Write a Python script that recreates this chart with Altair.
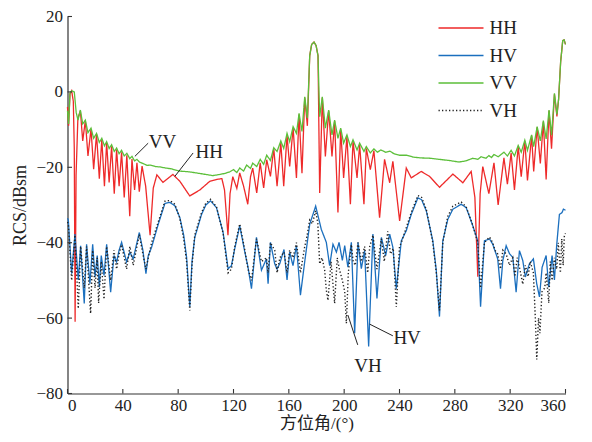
import altair as alt
import pandas as pd

# ---------------- data ----------------
pols = ["HH", "HV", "VV", "VH"]
colors = ["#ee2a2a", "#1b6fbe", "#5cbf3a", "#222222"]

hh_ang = [0.0, 0.8, 1.8, 3.0, 4.2, 4.9, 5.5, 6.2, 7.5, 9.3, 11.0, 12.9, 14.8, 17.0, 18.9, 21.0, 23.0, 24.8,
          26.7, 28.3, 30.1, 31.9, 33.8, 35.5, 37.3, 39.1, 41.0, 42.9, 45.0, 46.6, 48.5, 50.2, 51.9, 53.9,
          56.5, 59.7, 62.0, 64.6, 69.0, 76.2, 81.2, 88.4, 95.7, 102.9, 108.0, 111.6, 113.5, 116.0, 117.5,
          119.5, 122.4, 124.5, 127.3, 130.3, 132.3, 133.9, 136.8, 139.3, 141.8, 144.0, 146.7, 149.1, 151.5,
          154.2, 156.3, 158.7, 160.6, 163.1, 165.5, 167.4, 169.5, 171.5, 173.4, 175.1, 176.5, 178.2, 179.7,
          181.1, 182.3, 184.2, 186.4, 188.8, 191.2, 193.1, 195.5, 197.5, 199.6, 202.0, 204.5, 206.4, 209.3,
          211.2, 214.3, 216.0, 218.9, 221.5, 225.6, 229.2, 232.9, 235.2, 240.1, 244.9, 248.5, 255.7, 261.7,
          268.9, 278.6, 285.8, 291.8, 294.5, 296.6, 298.3, 300.2, 304.6, 308.3, 311.3, 315.5, 318.0, 320.7,
          323.1, 325.8, 328.0, 330.6, 332.5, 335.5, 337.0, 339.5, 341.8, 344.0, 346.0, 348.1, 349.9, 352.0,
          353.8, 355.0, 356.5, 358.0, 359.0, 360.0]
hh_db = [-4.0, -9.0, -0.5, 0.3, -2.5, -15.0, -61.0, -22.0, -7.0, -5.0, -13.0, -7.6, -17.0, -9.8, -20.5, -11.2,
         -23.0, -12.6, -25.0, -13.5, -24.0, -14.4, -27.0, -15.3, -25.0, -16.0, -28.0, -16.8, -33.0, -17.8,
         -26.0, -18.8, -26.5, -19.7, -25.0, -38.0, -25.5, -22.0, -24.0, -21.9, -23.7, -27.6, -26.0, -23.7,
         -23.2, -23.0, -26.0, -38.0, -27.0, -22.5, -25.6, -21.5, -25.0, -29.8, -22.5, -20.2, -26.8, -18.8,
         -25.5, -18.0, -22.4, -15.0, -25.0, -13.5, -25.0, -11.5, -19.8, -9.5, -22.8, -6.0, -21.6, -1.5,
         -9.0, 9.6, 12.6, 13.2, 12.3, 9.6, -26.8, -1.5, -17.1, -5.0, -17.1, -7.7, -32.0, -10.0, -22.8,
         -11.8, -29.8, -13.0, -22.8, -14.0, -29.8, -15.0, -20.6, -15.6, -33.4, -17.9, -24.1, -18.4, -34.2,
         -20.2, -22.8, -21.1, -22.4, -25.3, -21.8, -24.1, -21.1, -28.0, -49.0, -27.0, -19.8, -27.0, -18.8,
         -30.0, -17.5, -24.5, -16.2, -26.0, -14.5, -22.5, -13.0, -23.5, -11.6, -21.1, -9.4, -19.0, -7.9,
         -23.2, -5.0, -15.1, -0.6, -6.5, -2.0, 8.0, 13.6, 13.8, 12.6]

vv_ang = [0.0, 0.8, 1.8, 3.0, 4.9, 6.3, 7.6, 9.3, 11.0, 12.9, 14.8, 17.0, 18.9, 21.0, 23.0, 24.8, 26.7, 28.3,
          30.1, 31.9, 33.8, 35.5, 37.3, 39.1, 41.0, 42.9, 45.0, 46.6, 48.5, 50.2, 52.0, 54.7, 57.5, 60.0,
          63.5, 66.8, 71.0, 75.0, 81.0, 88.0, 95.0, 100.0, 105.0, 110.0, 114.0, 117.3, 120.0, 122.4, 124.5,
          127.3, 129.5, 132.3, 133.9, 136.8, 139.3, 141.8, 144.0, 146.7, 149.1, 151.5, 154.2, 156.3, 158.7,
          160.6, 163.1, 165.5, 167.4, 169.5, 171.5, 173.4, 175.1, 176.5, 178.2, 179.7, 181.1, 182.3, 184.2,
          186.4, 188.8, 191.2, 193.1, 195.5, 197.5, 199.6, 202.0, 204.5, 206.4, 209.3, 211.2, 214.3, 216.0,
          218.9, 221.5, 224.0, 226.5, 230.0, 233.0, 236.0, 240.0, 245.0, 250.0, 255.0, 262.0, 269.0, 276.0,
          283.0, 288.0, 293.0, 296.6, 299.0, 302.5, 304.6, 306.5, 308.3, 311.3, 315.5, 318.0, 320.7, 323.1,
          325.8, 328.0, 330.6, 332.5, 335.5, 337.0, 339.5, 341.8, 344.0, 346.0, 348.1, 349.9, 352.0, 353.8,
          355.0, 356.5, 358.0, 359.0, 360.0]
vv_db = [-5.0, -8.5, -0.3, 0.3, 0.0, -5.5, -7.5, -4.8, -8.5, -7.5, -10.8, -9.6, -12.3, -11.0, -13.4, -12.3,
         -14.3, -13.2, -15.0, -14.0, -15.8, -14.9, -16.4, -15.5, -17.0, -16.3, -17.7, -17.1, -18.3, -17.9,
         -18.6, -19.0, -19.5, -19.4, -19.8, -19.9, -20.2, -20.4, -21.0, -21.2, -21.6, -21.9, -22.2, -21.9,
         -21.6, -21.2, -20.6, -21.4, -20.2, -21.0, -19.4, -20.3, -18.9, -19.8, -17.9, -19.2, -16.8, -18.2,
         -14.8, -15.8, -13.0, -15.0, -11.0, -13.2, -9.2, -11.0, -5.7, -10.5, -1.3, -7.0, 9.6, 12.6, 13.2,
         12.3, 9.6, -6.6, -1.3, -9.6, -4.8, -11.4, -7.5, -12.3, -9.6, -13.6, -11.4, -14.5, -12.7, -15.4,
         -13.6, -15.8, -14.5, -16.2, -15.1, -16.0, -15.4, -16.0, -15.7, -16.4, -16.8, -16.8, -17.3, -17.5,
         -17.6, -17.9, -18.2, -18.6, -18.3, -17.6, -17.9, -17.2, -17.6, -16.9, -17.4, -16.6, -17.2, -16.0,
         -17.0, -15.5, -17.0, -14.2, -16.0, -12.8, -15.5, -11.4, -14.5, -9.2, -13.0, -7.6, -12.5, -4.8,
         -11.5, -0.4, -6.0, -2.0, 8.0, 13.6, 13.8, 12.6]

hv_ang = [0.0, 0.6, 3.0, 5.4, 7.8, 9.5, 12.1, 13.8, 16.2, 18.2, 19.9, 21.5, 23.0, 24.4, 26.4, 28.3, 31.2, 33.6,
          35.5, 37.3, 39.1, 42.7, 45.1, 47.5, 51.9, 54.5, 56.7, 58.4, 60.8, 65.6, 70.4, 74.0, 77.6, 81.2,
          84.0, 86.1, 88.4, 90.0, 92.0, 96.9, 100.0, 103.4, 107.7, 112.5, 116.1, 118.5, 120.9, 124.5, 128.2,
          130.5, 133.0, 136.6, 140.2, 143.8, 145.0, 146.7, 149.8, 151.5, 153.5, 156.5, 158.7, 160.6, 163.0,
          165.5, 168.4, 171.5, 175.1, 179.4, 183.5, 187.1, 189.5, 191.9, 194.4, 196.3, 198.7, 200.4, 202.7,
          205.2, 207.6, 210.0, 212.4, 214.8, 217.7, 220.8, 223.7, 226.9, 230.0, 232.9, 235.2, 237.7, 241.3,
          244.9, 248.5, 253.3, 256.0, 259.4, 264.1, 266.6, 268.9, 271.3, 274.9, 278.6, 284.6, 288.2, 292.6,
          296.6, 298.6, 301.4, 305.1, 307.4, 311.0, 313.0, 314.7, 317.1, 319.5, 321.9, 324.3, 326.7, 329.1,
          331.0, 333.9, 336.8, 339.2, 341.2, 343.1, 346.0, 347.9, 350.3, 352.0, 353.6, 355.6, 357.5, 358.5,
          360.0]
hv_db = [-33.5, -34.0, -48.2, -37.7, -49.9, -40.8, -56.1, -40.4, -50.9, -40.4, -49.1, -43.4, -51.8, -43.4,
         -48.7, -40.4, -53.1, -43.4, -45.1, -42.0, -39.9, -45.1, -42.5, -44.3, -37.3, -42.0, -48.2, -43.4,
         -41.2, -35.1, -29.6, -29.3, -30.2, -33.3, -38.0, -43.9, -57.0, -45.0, -38.6, -32.5, -30.0, -28.9,
         -30.7, -37.3, -46.9, -46.1, -41.6, -35.5, -42.5, -46.5, -52.2, -38.6, -47.3, -44.3, -50.9, -39.9,
         -45.6, -47.0, -45.5, -41.8, -49.9, -42.5, -46.1, -40.8, -53.9, -45.0, -35.1, -30.3, -36.5, -39.9,
         -46.1, -40.4, -42.5, -39.9, -44.7, -40.8, -46.5, -39.9, -64.0, -39.9, -46.9, -42.1, -67.5, -37.7,
         -54.8, -38.6, -43.4, -37.7, -41.2, -52.2, -39.5, -36.8, -32.5, -28.1, -28.6, -31.6, -39.5, -47.4,
         -59.6, -39.5, -33.8, -31.1, -29.8, -30.7, -35.1, -39.5, -57.0, -39.5, -39.0, -40.4, -44.3, -52.2,
         -44.7, -40.8, -42.9, -43.9, -53.1, -42.1, -44.7, -49.1, -45.6, -44.3, -50.9, -54.4, -46.5, -43.4,
         -51.8, -43.4, -49.9, -40.8, -32.5, -32.0, -31.1, -31.4]

vh_ang = [0.0, 0.6, 3.0, 5.4, 7.8, 9.5, 12.1, 13.8, 16.7, 18.2, 19.9, 21.5, 22.5, 24.4, 26.4, 28.3, 31.2, 33.6,
          35.5, 37.3, 39.1, 42.7, 45.1, 47.5, 51.9, 54.5, 56.7, 58.4, 60.8, 65.6, 70.4, 74.0, 77.6, 81.2,
          84.0, 86.1, 88.4, 90.0, 92.0, 96.9, 100.0, 103.4, 107.7, 112.5, 116.1, 118.5, 120.9, 124.5, 128.2,
          130.5, 133.0, 136.6, 140.2, 143.8, 145.0, 146.7, 149.8, 151.5, 153.5, 156.5, 158.7, 160.6, 163.0,
          165.5, 168.4, 171.5, 173.0, 175.1, 177.0, 179.4, 181.0, 182.3, 184.0, 185.9, 187.1, 188.3, 190.5,
          193.1, 195.0, 196.5, 198.7, 200.4, 201.6, 203.0, 205.2, 206.5, 208.0, 210.0, 212.4, 214.8, 217.0,
          218.5, 220.8, 223.7, 226.9, 229.0, 231.5, 233.5, 235.5, 237.7, 240.0, 241.3, 244.9, 248.5, 253.3,
          256.0, 259.4, 264.1, 266.6, 268.9, 271.3, 274.9, 278.6, 284.6, 288.2, 292.6, 296.6, 298.6, 301.4,
          305.1, 307.4, 309.0, 311.0, 313.0, 314.7, 317.1, 319.5, 321.9, 323.5, 325.0, 327.0, 329.1, 331.0,
          333.0, 334.5, 336.8, 338.2, 339.2, 340.5, 341.5, 343.0, 345.0, 346.0, 347.9, 349.0, 350.3, 352.0,
          353.6, 354.8, 356.3, 357.3, 358.3, 359.2, 360.0]
vh_db = [-34.5, -35.0, -50.0, -38.0, -57.5, -41.0, -52.0, -41.0, -58.8, -42.0, -52.0, -44.0, -56.0, -45.0,
         -55.0, -41.0, -50.0, -42.0, -47.0, -43.0, -40.5, -47.0, -41.0, -46.0, -37.8, -43.0, -47.0, -44.0,
         -40.0, -34.5, -29.0, -28.8, -29.8, -33.5, -39.0, -45.0, -58.0, -46.0, -38.0, -32.0, -29.5, -28.5,
         -30.5, -37.5, -48.0, -47.0, -41.0, -35.0, -42.0, -47.0, -50.0, -39.0, -45.0, -44.0, -48.0, -40.0,
         -42.0, -48.0, -44.0, -42.5, -48.0, -42.0, -44.0, -40.0, -48.0, -41.0, -38.5, -34.0, -35.0, -31.5,
         -35.0, -45.6, -44.0, -47.3, -52.6, -55.3, -45.0, -56.1, -44.0, -47.0, -50.0, -53.0, -61.4, -48.0,
         -40.5, -45.0, -46.0, -40.0, -45.0, -41.0, -48.0, -41.0, -38.0, -47.0, -39.0, -45.0, -37.0, -43.0,
         -41.5, -57.0, -41.0, -40.0, -36.0, -32.0, -27.5, -28.0, -31.2, -40.0, -48.0, -58.0, -40.0, -33.0,
         -30.3, -29.2, -30.5, -35.0, -40.0, -52.0, -40.0, -38.5, -40.0, -42.0, -43.0, -47.0, -42.0, -43.0,
         -46.0, -44.0, -49.0, -44.0, -47.0, -51.0, -46.0, -49.0, -45.0, -48.0, -60.0, -71.0, -60.0, -64.0,
         -53.0, -52.0, -48.0, -56.0, -45.0, -50.0, -44.0, -47.0, -40.0, -48.0, -39.0, -46.0, -38.0, -37.5]

# annotations
ann_text = ["VV", "HH", "HV", "VH"]
ann_x = [68.6, 102.4, 245.5, 217.2]
ann_y = [-13.2, -16.0, -65.3, -72.8]
lead_x1 = [58.3, 90.8, 235.2, 209.8]
lead_y1 = [-13.6, -16.2, -64.7, -67.1]
lead_x2 = [48.7, 77.6, 218.4, 202.7]
lead_y2 = [-17.1, -22.4, -61.6, -59.2]

x_ticks = [0, 40, 80, 120, 160, 200, 240, 280, 320, 360]
y_ticks = [-80, -60, -40, -20, 0, 20]

# ---------------- build ----------------
series = {"HH": (hh_ang, hh_db), "HV": (hv_ang, hv_db), "VV": (vv_ang, vv_db), "VH": (vh_ang, vh_db)}
rows = []
for p in pols:
    a, d = series[p]
    for i, (aa, dd) in enumerate(zip(a, d)):
        rows.append({"pol": p, "ang": aa, "db": dd, "i": i})
df = pd.DataFrame(rows)

W, H = 498, 377
FONT = "Liberation Serif, Noto Sans CJK SC"

xs = alt.Scale(domain=[0, 360], nice=False, zero=False)
ys = alt.Scale(domain=[-80, 20], nice=False, zero=False)

leg = alt.Legend(
    title=None, orient="none", legendX=384, legendY=2, padding=0,
    symbolType="M-9,0H9", symbolSize=25, symbolStrokeWidth=1.5,
    symbolOffset=0, labelOffset=19, rowPadding=7.5,
    labelFont=FONT, labelFontSize=19, labelColor="#222",
)
color = alt.Color("pol:N", scale=alt.Scale(domain=pols, range=colors), legend=leg)
dash = alt.StrokeDash("pol:N", scale=alt.Scale(domain=pols, range=[[1, 0], [1, 0], [1, 0], [1.3, 2.2]]), legend=leg)

xaxis = alt.Axis(values=x_ticks, title="方位角/(°)", ticks=False, labelPadding=4, titlePadding=2,
                 titleFontSize=17)
yaxis = alt.Axis(values=y_ticks, title="RCS/dBsm", ticks=False, labelPadding=5, titlePadding=6,
                 titleFontSize=18)

layers = []
for k, p in enumerate(pols):
    layers.append(
        alt.Chart(df).transform_filter(alt.datum.pol == p).mark_line(strokeWidth=1.3 if p != "VH" else 1.4)
        .encode(
            x=alt.X("ang:Q", scale=xs, axis=xaxis),
            y=alt.Y("db:Q", scale=ys, axis=yaxis),
            color=color, strokeDash=dash, order="i:Q",
        )
    )

xt = alt.Chart(pd.DataFrame({"t": x_ticks})).mark_rule(color="#333", strokeWidth=1.1).encode(
    x=alt.X("t:Q", scale=xs, axis=xaxis), y=alt.value(H), y2=alt.value(H - 4.5))
yt = alt.Chart(pd.DataFrame({"t": y_ticks})).mark_rule(color="#333", strokeWidth=1.1).encode(
    y=alt.Y("t:Q", scale=ys, axis=yaxis), x=alt.value(0), x2=alt.value(4.5))

ann_df = pd.DataFrame({"text": ann_text, "x": ann_x, "y": ann_y})
lead_df = pd.DataFrame({"x1": lead_x1, "y1": lead_y1, "x2": lead_x2, "y2": lead_y2})
ann = alt.Chart(ann_df).mark_text(font=FONT, fontSize=19, color="#222").encode(
    x=alt.X("x:Q", scale=xs, axis=xaxis), y=alt.Y("y:Q", scale=ys, axis=yaxis), text="text:N")
lead = alt.Chart(lead_df).mark_rule(color="#222", strokeWidth=1.0).encode(
    x=alt.X("x1:Q", scale=xs, axis=xaxis), y=alt.Y("y1:Q", scale=ys, axis=yaxis), x2="x2:Q", y2="y2:Q")

chart = alt.layer(*layers, xt, yt, lead, ann).properties(
    width=W, height=H,
    autosize=alt.AutoSizeParams(type="none"),
    padding={"left": 59.5, "top": 8.5, "right": 18, "bottom": 40.5},
).configure_view(stroke=None).configure_axis(
    grid=False, domainColor="#333", domainWidth=1.2,
    labelFont=FONT, labelFontSize=17, labelColor="#222",
    titleFont=FONT, titleFontSize=19, titleFontWeight="normal", titleColor="#222",
)

chart.save("out.html", embed_options={"renderer": "svg", "actions": False})
